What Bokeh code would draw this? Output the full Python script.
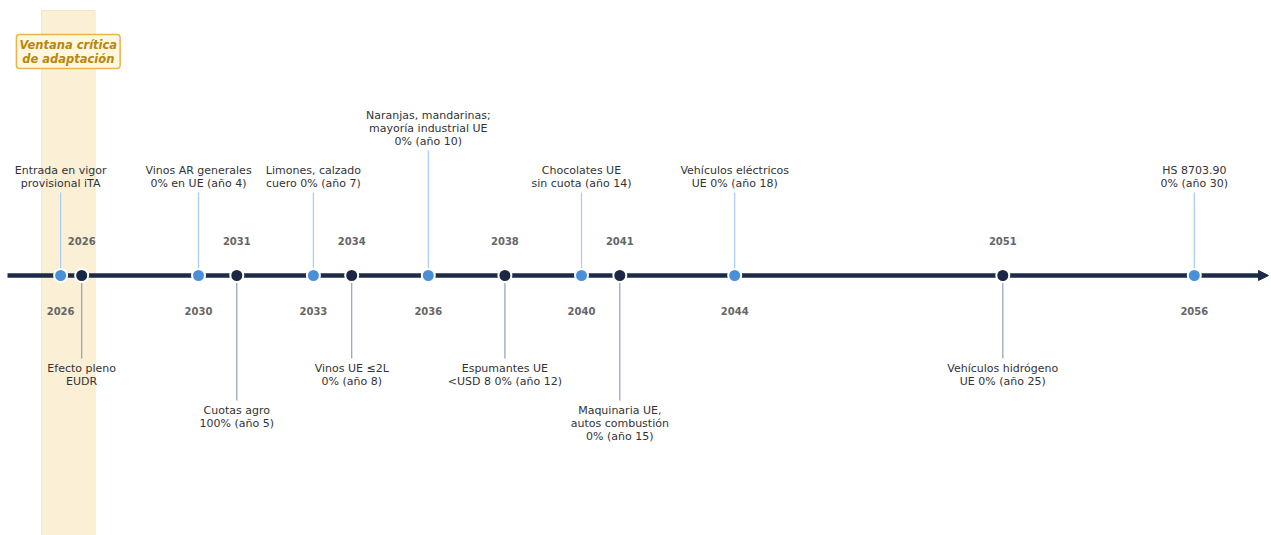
from bokeh.plotting import figure
from bokeh.models import Range1d, Label, Arrow, NormalHead, ColumnDataSource
from bokeh.core.properties import value
from bokeh.embed import file_html
from bokeh.resources import INLINE

# ---------------- data ----------------
years = [2026.4, 2026.95, 2030, 2031, 2033, 2034, 2036, 2038, 2040, 2041, 2044, 2051, 2056]
year_labels = ["2026", "2026", "2030", "2031", "2033", "2034", "2036",
               "2038", "2040", "2041", "2044", "2051", "2056"]
events = [
    "Entrada en vigor\nprovisional iTA",
    "Efecto pleno\nEUDR",
    "Vinos AR generales\n0% en UE (año 4)",
    "Cuotas agro\n100% (año 5)",
    "Limones, calzado\ncuero 0% (año 7)",
    "Vinos UE ≤2L\n0% (año 8)",
    "Naranjas, mandarinas;\nmayoría industrial UE\n0% (año 10)",
    "Espumantes UE\n<USD 8 0% (año 12)",
    "Chocolates UE\nsin cuota (año 14)",
    "Maquinaria UE,\nautos combustión\n0% (año 15)",
    "Vehículos eléctricos\nUE 0% (año 18)",
    "Vehículos hidrógeno\nUE 0% (año 25)",
    "HS 8703.90\n0% (año 30)",
]
sides = ["up", "down", "up", "down", "up", "down", "up",
         "down", "up", "down", "up", "down", "up"]
tiers = [1, 1, 1, 2, 1, 1, 2, 1, 1, 2, 1, 1, 1]
window_start, window_end = 2025.9, 2027.3
window_label = "Ventana crítica\nde adaptación"
window_label_year = 2026.6

# ---------------- layout / style ----------------
LIGHT = "#4A90D9"
DARK = "#1B2845"
AXIS = "#1E2B48"
STEM = {1: 83, 2: 125}
W, H = 1271, 535
px_per_year = 38.3
x0 = 2030 - 198 / px_per_year
x1 = x0 + W / px_per_year

p = figure(width=W, height=H, output_backend="svg", toolbar_location=None,
           x_range=Range1d(x0, x1), y_range=Range1d(-260, 275),
           min_border=0, outline_line_color=None, background_fill_color="white")
p.axis.visible = False
p.grid.visible = False

# adaptation window
band = p.quad(left=[window_start], right=[window_end], top=[265], bottom=[-262],
              fill_color="#FBEFD6", line_color="#F8E6C2", line_width=1)
band.level = "image"

p.add_layout(Label(x=window_label_year, y=224, text=window_label,
                   text_align="center", text_baseline="middle",
                   text_font="DejaVu Sans", text_font_size="11.5px",
                   text_font_style="bold italic", text_color="#B8860B",
                   text_line_height=1.0,
                   background_fill_color="#FFF7E0",
                   border_line_color="#E9B44C", border_line_width=1.5,
                   padding=3, border_radius=3))

# main axis with arrow
arr = Arrow(end=NormalHead(size=10, fill_color=AXIS, line_color=AXIS),
            x_start=x0 + 7 / px_per_year, y_start=0, x_end=x0 + 1268 / px_per_year, y_end=0,
            line_color=AXIS, line_width=4.5)
arr.level = "underlay"
p.add_layout(arr)

sx, sy0, sy1, scol = [], [], [], []
tx, ty, ttext, tbase = [], [], [], []
yx, yy, ytext = [], [], []
px_, pcol = [], []
for yr, lab, ev, sd, tr in zip(years, year_labels, events, sides, tiers):
    L = STEM[tr]
    sgn = 1 if sd == "up" else -1
    sx.append(yr); sy0.append(7 * sgn); sy1.append(L * sgn)
    scol.append("#A9CBEE" if sd == "up" else "#959FB2")
    tx.append(yr); ty.append((L + 3) if sd == "up" else -(L + 3.5))
    ttext.append(ev); tbase.append("bottom" if sd == "up" else "top")
    yx.append(yr); yy.append(-35 if sd == "up" else 35); ytext.append(lab)
    px_.append(yr); pcol.append(LIGHT if sd == "up" else DARK)

p.segment(x0=sx, y0=sy0, x1=sx, y1=sy1, line_color=scol, line_width=1.2)

p.scatter(x=px_, y=[0] * len(px_), size=13, fill_color=pcol,
          line_color="white", line_width=2)

src = ColumnDataSource(dict(x=tx, y=ty, text=ttext, base=tbase))
p.text(x="x", y="y", text="text", source=src, text_align="center",
       text_baseline="base", text_font=value("DejaVu Sans"),
       text_font_size="11px", text_color="#333333", text_line_height=1.0)

p.text(x=yx, y=yy, text=ytext, text_align="center", text_baseline="middle",
       text_font=value("DejaVu Sans"), text_font_size="10px",
       text_font_style="bold", text_color="#666666")

open("out.html", "w").write(file_html(p, INLINE))
